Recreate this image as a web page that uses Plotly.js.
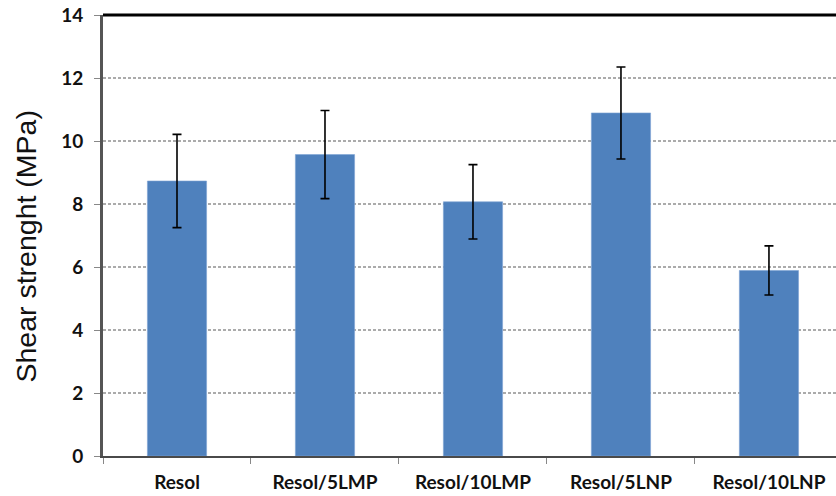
<!DOCTYPE html>
<html>
<head>
<meta charset="utf-8">
<script src="https://cdn.plot.ly/plotly-3.0.1.min.js"></script>
<style>
  html, body { margin: 0; padding: 0; background: #fff; }
  #chart { width: 836px; height: 496px; }
</style>
</head>
<body>
<div id="chart"></div>
<script>
// Shear strength of resol adhesives with micro/nano fillers
const samples = ["Resol", "Resol/5LMP", "Resol/10LMP", "Resol/5LNP", "Resol/10LNP"];
const shearMPa = [8.73, 9.57, 8.07, 10.89, 5.89];
const shearErr = [1.48, 1.40, 1.18, 1.46, 0.78];
const yTicks = [0, 2, 4, 6, 8, 10, 12, 14];
const yTitle = "Shear strenght (MPa)";

const bars = {
  type: "bar",
  x: samples,
  y: shearMPa,
  width: 0.4,
  marker: { color: "#4F81BD", line: { color: "#7EA3D3", width: 0.6 } },
  error_y: {
    type: "data",
    array: shearErr,
    visible: true,
    color: "#000000",
    thickness: 1.6,
    width: 4.5
  },
  hoverinfo: "x+y"
};

const layout = {
  width: 836,
  height: 496,
  margin: { l: 103, r: 0, t: 15, b: 40 },
  paper_bgcolor: "#ffffff",
  plot_bgcolor: "#ffffff",
  showlegend: false,
  bargap: 0.6,
  xaxis: {
    type: "category",
    range: [-0.5, 4.453],
    showgrid: false,
    zeroline: false,
    showline: true,
    linecolor: "#4a4a4a",
    linewidth: 2,
    ticks: "outside",
    tickson: "boundaries",
    ticklen: 6,
    tickwidth: 1,
    tickcolor: "#888888",
    ticklabelstandoff: 8,
    tickfont: { family: "Lato, 'Open Sans', sans-serif", size: 19, color: "#111111", weight: 700 }
  },
  yaxis: {
    range: [0, 14],
    tickvals: yTicks,
    ticktext: yTicks.map(String),
    showgrid: true,
    gridcolor: "#ababab",
    gridwidth: 2,
    griddash: "3px,2px",
    zeroline: false,
    showline: true,
    linecolor: "#555555",
    linewidth: 3,
    ticks: "outside",
    ticklen: 6,
    tickwidth: 1,
    tickcolor: "#888888",
    ticklabelstandoff: 7,
    tickfont: { family: "Lato, 'Open Sans', sans-serif", size: 19, color: "#111111", weight: 700 }
  },
  // axis title placed as a rotated annotation so it sits slightly below the plot's mid-height
  annotations: [
    {
      text: yTitle,
      xref: "paper", yref: "paper",
      x: 0, y: 0.475,
      xshift: -77,
      xanchor: "center", yanchor: "middle",
      textangle: -90,
      showarrow: false,
      font: { family: "'Liberation Sans', Arial, sans-serif", size: 28.5, color: "#111111" }
    }
  ],
  shapes: [
    {
      type: "line",
      xref: "paper", yref: "paper",
      x0: 0, x1: 1, y0: 1, y1: 1,
      line: { color: "#000000", width: 3 }
    }
  ]
};

Plotly.newPlot("chart", [bars], layout, { displayModeBar: false, staticPlot: true });
</script>
</body>
</html>
